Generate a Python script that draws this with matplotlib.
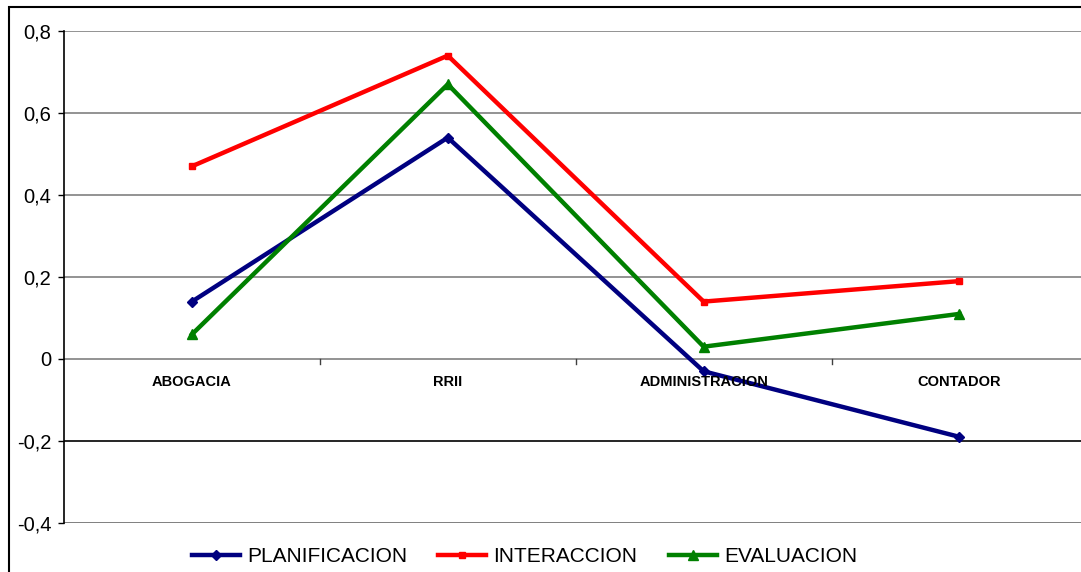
import numpy as np
import matplotlib.pyplot as plt

carreras = ["ABOGACIA", "RRII", "ADMINISTRACION", "CONTADOR"]
planificacion = [0.14, 0.54, -0.03, -0.19]
interaccion = [0.47, 0.74, 0.14, 0.19]
evaluacion = [0.06, 0.67, 0.03, 0.11]
yticks = [-0.4, -0.2, 0, 0.2, 0.4, 0.6, 0.8]

fig = plt.figure(figsize=(10.81, 5.72), dpi=100)
ax = fig.add_axes([0.0592, 0.0857, 0.9408, 0.8601])

x = np.arange(len(carreras))
ax.plot(x, planificacion, color="#000080", lw=3.2, marker="D", ms=5.5, label="PLANIFICACION", zorder=3)
ax.plot(x, interaccion, color="#ff0000", lw=3.2, marker="s", ms=4.5, label="INTERACCION", zorder=3)
ax.plot(x, evaluacion, color="#008000", lw=3.2, marker="^", ms=7, label="EVALUACION", zorder=3)

ax.set_xlim(-0.5, 3.475)
ax.set_ylim(-0.4, 0.8)
ax.set_yticks(yticks)
ax.set_yticklabels([("%g" % v).replace(".", ",") for v in yticks], fontsize=14.5, family="Liberation Sans")
ax.tick_params(axis="y", length=4, width=1, pad=5)
ax.set_xticks([])
for yv in yticks:
    ax.axhline(yv, color="#808080" if yv != -0.2 else "black", lw=1.2, zorder=1)
ax.axhline(-0.4, color="#808080", lw=2, zorder=1)

# marcas entre categorias sobre la linea cero
for b in [0.5, 1.5, 2.5]:
    ax.plot([b, b], [0, -0.012], color="#404040", lw=1, zorder=2)

# etiquetas de categorias debajo de cero
for i, c in enumerate(carreras):
    ax.text(i, -0.055, c, ha="center", va="center", fontsize=10.5, fontweight="bold", family="Liberation Sans")

for s in ["top", "right", "bottom"]:
    ax.spines[s].set_visible(False)
ax.spines["left"].set_linewidth(1.2)

leg = fig.legend(loc="center", bbox_to_anchor=(0.485, 0.027), ncol=3, frameon=False,
                 prop={"family": "Liberation Sans", "size": 15}, handlelength=2.3,
                 columnspacing=1.5, handletextpad=0.35)

# borde exterior
fig.patches.append(plt.Rectangle((0.008, -0.1), 1.1, 1.088, transform=fig.transFigure,
                                 fill=False, edgecolor="black", lw=1.5))

fig.savefig("out.png", dpi=100)
